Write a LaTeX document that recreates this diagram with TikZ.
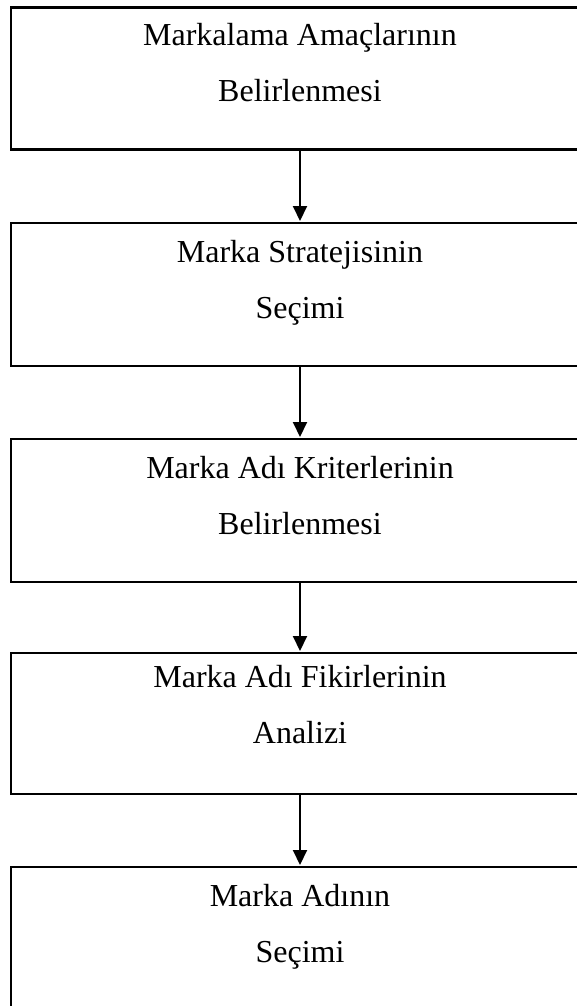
\documentclass[tikz,border=0pt]{standalone}
\usepackage{fontspec}
\setmainfont{Liberation Serif}
\usetikzlibrary{arrows.meta}
\begin{document}
\begin{tikzpicture}[x=1pt,y=-1pt,
  stagebox/.style={draw, line width=2.2pt, minimum width=578pt, inner sep=0pt, anchor=north},
  linetext/.style={anchor=base, inner sep=0pt, font=\fontsize{32}{38}\selectfont},
  flow/.style={line width=2pt, -{Triangle[width=14pt,length=15pt]}, shorten >=1pt}
]
\useasboundingbox (0,0) rectangle (577,1006);

% stage boxes (right edge runs past the page)
\node[stagebox, line width=2.8pt, minimum height=142pt] (b1) at (300,6) {};
\node[stagebox, minimum height=143pt] (b2) at (300,222) {};
\node[stagebox, minimum height=143pt] (b3) at (300,438) {};
\node[stagebox, minimum height=141pt] (b4) at (300,652) {};
\node[stagebox, minimum height=160pt] (b5) at (300,866) {};

% two lines of text in each box
\node[linetext] (t1a) at (300,46) {Markalama Amaçlarının};
\node[linetext] (t1b) at (300,102) {Belirlenmesi};
\node[linetext] (t2a) at (300,262) {Marka Stratejisinin};
\node[linetext] (t2b) at (300,318) {Seçimi};
\node[linetext] (t3a) at (300,478) {Marka Adı Kriterlerinin};
\node[linetext] (t3b) at (300,534) {Belirlenmesi};
\node[linetext] (t4a) at (300,687) {Marka Adı Fikirlerinin};
\node[linetext] (t4b) at (300,743) {Analizi};
\node[linetext] (t5a) at (300,906) {Marka Adının};
\node[linetext] (t5b) at (300,962) {Seçimi};

% arrows between consecutive stages
\draw[flow] (b1.south) -- (b2.north);
\draw[flow] (b2.south) -- (b3.north);
\draw[flow] (b3.south) -- (b4.north);
\draw[flow] (b4.south) -- (b5.north);
\end{tikzpicture}
\end{document}
